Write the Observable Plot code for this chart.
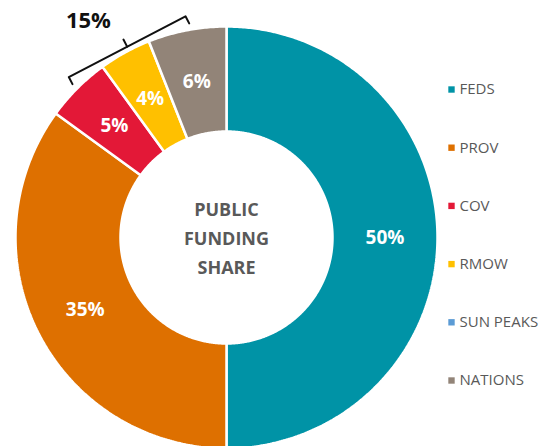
<!DOCTYPE html>
<html>
<head>
<meta charset="utf-8">
<script src="https://cdn.jsdelivr.net/npm/d3@7"></script>
<script src="https://cdn.jsdelivr.net/npm/@observablehq/plot@0.6"></script>
<style>
  html, body { margin: 0; padding: 0; background: #fff; }
  svg { display: block; }
</style>
</head>
<body>
<div id="chart"></div>
<script>
// ---- data ----
const categories = ["FEDS", "PROV", "COV", "RMOW", "SUN PEAKS", "NATIONS"];
const shares = [50, 35, 5, 4, 0, 6];
const colors = ["#0093A6", "#DE7000", "#E31837", "#FFC000", "#5B9BD5", "#928478"];
const sliceLabels = ["50%", "35%", "5%", "4%", "", "6%"];
const groupLabel = "15%";
const groupMembers = ["COV", "RMOW", "SUN PEAKS", "NATIONS"];
const centerLines = ["PUBLIC", "FUNDING", "SHARE"];

// ---- layout ----
const W = 551, H = 446;
const cx = 226, cy = 237, rOuter = 211, rInner = 106;
const font = "'Open Sans', sans-serif";

const total = d3.sum(shares);
const pt = (angleDeg, r) => {
  const a = angleDeg * Math.PI / 180;
  return {x: cx + r * Math.sin(a), y: cy - r * Math.cos(a)};
};

// slices
let acc = 0;
const slices = categories.map((c, i) => {
  const a0 = acc / total * 360;
  acc += shares[i];
  const a1 = acc / total * 360;
  return {cat: c, a0, a1, mid: (a0 + a1) / 2, label: sliceLabels[i], value: shares[i]};
});

const polyPts = [];
for (const s of slices) {
  if (s.value <= 0) continue;
  const n = Math.max(4, Math.ceil((s.a1 - s.a0) / 0.5));
  const ring = [];
  for (let k = 0; k <= n; k++) ring.push(pt(s.a0 + (s.a1 - s.a0) * k / n, rOuter));
  for (let k = n; k >= 0; k--) ring.push(pt(s.a0 + (s.a1 - s.a0) * k / n, rInner));
  ring.push(ring[0]);
  ring.forEach((p, j) => polyPts.push({...p, cat: s.cat, j}));
}

const labelPts = slices.filter(s => s.value > 0).map(s => ({...pt(s.mid, (rOuter + rInner) / 2), text: s.label}));

// bracket over grouped small slices
const grp = slices.filter(s => groupMembers.includes(s.cat));
const g0 = d3.min(grp, s => s.a0) + 9.5, g1 = d3.max(grp, s => s.a1) - 10.5;
const rB = 225;
const bA = pt(g0, rB), bB = pt(g1, rB);
const mid = {x: (bA.x + bB.x) / 2, y: (bA.y + bB.y) / 2};
let nx = mid.x - cx, ny = mid.y - cy; const nl = Math.hypot(nx, ny); nx /= nl; ny /= nl;
const tick = 8;
const bracket = [
  {x: bA.x - nx * tick, y: bA.y - ny * tick, seg: 0},
  {x: bA.x, y: bA.y, seg: 0},
  {x: bB.x, y: bB.y, seg: 0},
  {x: bB.x - nx * tick, y: bB.y - ny * tick, seg: 0},
  {x: mid.x, y: mid.y, seg: 1},
  {x: mid.x + nx * tick, y: mid.y + ny * tick, seg: 1}
];
const grpLabelPt = {...pt((g0 + g1) / 2 - 5, 257), text: groupLabel};

// legend
const legend = categories.map((c, i) => ({cat: c, x: 451, y: 89 + i * 58.2}));

const chart = Plot.plot({
  width: W, height: H,
  margin: 0,
  x: {type: "identity", axis: null},
  y: {type: "identity", axis: null},
  color: {domain: categories, range: colors},
  style: {fontFamily: font, background: "white"},
  marks: [
    Plot.line(polyPts, {x: "x", y: "y", z: "cat", fill: "cat", stroke: "white", strokeWidth: 2.5, curve: "linear", strokeLinejoin: "miter"}),
    Plot.text(labelPts, {x: "x", y: "y", text: "text", fill: "white", fontSize: 19, fontWeight: "bold"}),
    Plot.text(centerLines, {x: () => cx, y: (d, i) => cy - 27 + i * 29, text: d => d, fill: "#595959", fontSize: 18, fontWeight: "bold"}),
    Plot.line(bracket, {x: "x", y: "y", z: "seg", stroke: "#111", strokeWidth: 2, curve: "linear"}),
    Plot.text([grpLabelPt], {x: "x", y: "y", text: "text", fill: "#111", fontSize: 22, fontWeight: "bold"}),
    Plot.dot(legend, {x: "x", y: "y", fill: "cat", symbol: "square", r: 3.6, stroke: null}),
    Plot.text(legend, {x: d => d.x + 8, y: "y", text: "cat", textAnchor: "start", fill: "#595959", fontSize: 15})
  ]
});
document.getElementById("chart").append(chart);
</script>
</body>
</html>
